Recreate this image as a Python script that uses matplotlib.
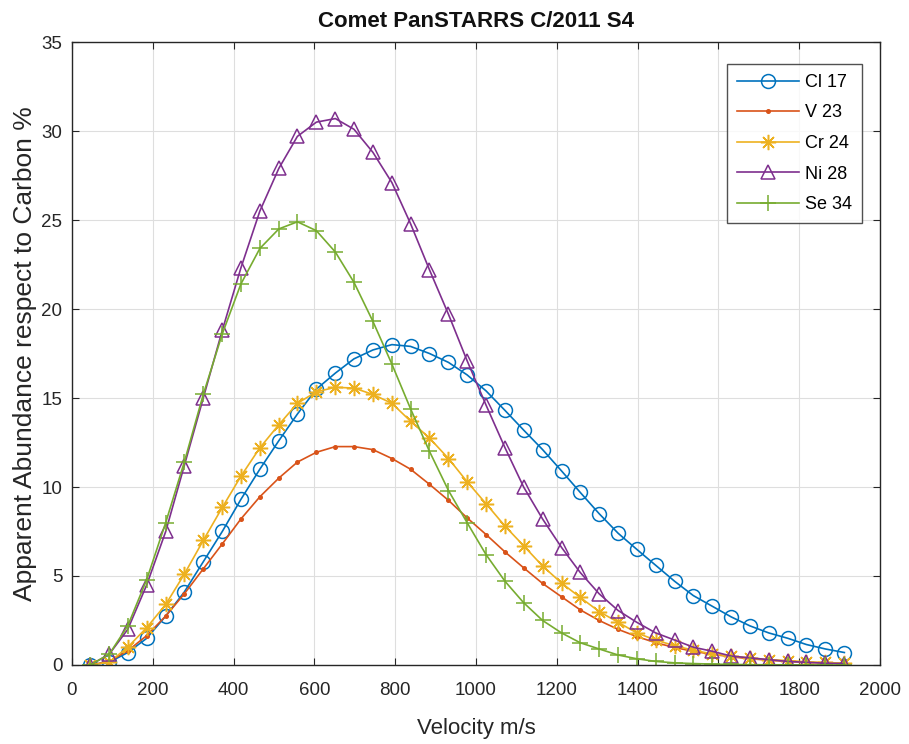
import matplotlib
matplotlib.use("Agg")
import matplotlib.pyplot as plt

plt.rcParams['font.family'] = ['Liberation Sans', 'DejaVu Sans']

velocity = [45, 92, 138, 185, 232, 278, 325, 372, 418, 465, 512, 558, 605, 652,
            698, 745, 792, 838, 885, 932, 978, 1025, 1072, 1118, 1165, 1212, 1258,
            1305, 1352, 1398, 1445, 1492, 1538, 1585, 1632, 1678, 1725, 1772, 1818,
            1865, 1912]

cl17 = [0.0, 0.15, 0.7, 1.5, 2.75, 4.1, 5.8, 7.5, 9.3, 11.0, 12.6, 14.1, 15.5, 16.4,
        17.2, 17.7, 18.0, 17.9, 17.5, 17.0, 16.3, 15.4, 14.3, 13.2, 12.1, 10.9, 9.7,
        8.5, 7.4, 6.5, 5.6, 4.7, 3.9, 3.3, 2.7, 2.2, 1.8, 1.5, 1.15, 0.9, 0.7]

v23 = [0.0, 0.2, 0.8, 1.65, 2.75, 4.0, 5.4, 6.8, 8.2, 9.45, 10.5, 11.4, 11.95, 12.27,
       12.27, 12.1, 11.6, 11.0, 10.15, 9.25, 8.27, 7.33, 6.35, 5.46, 4.58, 3.83, 3.1,
       2.5, 2.0, 1.6, 1.25, 0.98, 0.77, 0.6, 0.46, 0.35, 0.27, 0.2, 0.15, 0.11, 0.08]

cr24 = [0.0, 0.15, 1.0, 2.1, 3.4, 5.1, 7.0, 8.85, 10.6, 12.2, 13.5, 14.7, 15.35, 15.6,
        15.56, 15.2, 14.7, 13.7, 12.75, 11.6, 10.3, 9.06, 7.8, 6.7, 5.56, 4.6, 3.8,
        3.0, 2.4, 1.8, 1.4, 1.08, 0.83, 0.62, 0.5, 0.4, 0.3, 0.25, 0.18, 0.14, 0.1]

ni28 = [0.0, 0.6, 2.0, 4.5, 7.5, 11.2, 15.0, 18.8, 22.3, 25.5, 27.9, 29.7, 30.5, 30.7,
        30.1, 28.8, 27.1, 24.8, 22.2, 19.7, 17.1, 14.6, 12.2, 10.0, 8.2, 6.6, 5.2,
        4.0, 3.06, 2.4, 1.8, 1.4, 1.0, 0.77, 0.5, 0.4, 0.3, 0.2, 0.15, 0.1, 0.08]

se34 = [0.0, 0.6, 2.2, 4.8, 8.0, 11.4, 15.2, 18.6, 21.4, 23.4, 24.5, 24.9, 24.4, 23.2,
        21.5, 19.3, 16.9, 14.4, 12.0, 9.8, 8.0, 6.2, 4.7, 3.5, 2.5, 1.8, 1.25,
        0.9, 0.56, 0.35, 0.2, 0.12, 0.08, 0.05, 0.03, 0.02, 0.01, 0.01, 0.005, 0.0, 0.0]

labels = ['Cl 17', 'V 23', 'Cr 24', 'Ni 28', 'Se 34']
colors = ['#0072BD', '#D95319', '#EDB120', '#7E2F8E', '#77AC30']
markers = ['o', '.', (8, 2, 0), '^', '+']
msizes = [10, 5, 11, 10.5, 12]
series = [cl17, v23, cr24, ni28, se34]

fig = plt.figure(figsize=(9.09, 7.44), dpi=100)
ax = fig.add_axes([0.0792, 0.1062, 0.8888, 0.8373])

for y, lab, c, m, ms in zip(series, labels, colors, markers, msizes):
    ax.plot(velocity, y, color=c, marker=m, markersize=ms, linewidth=1.2,
            markerfacecolor='none' if m in ('o', '^') else c,
            markeredgewidth=1.1, label=lab)

ax.set_xlim(0, 2000)
ax.set_ylim(0, 35)
ax.set_xticks(range(0, 2001, 200))
ax.set_yticks(range(0, 36, 5))
ax.grid(True, color='#dedede', linewidth=0.8)
ax.set_axisbelow(True)
ax.tick_params(direction='in', top=True, right=True, labelsize=13.5, length=5,
               colors='#262626')
ax.tick_params(axis='x', pad=12)
ax.tick_params(axis='y', pad=7)
for s in ax.spines.values():
    s.set_color('#262626')
    s.set_linewidth(1.0)

ax.set_title('Comet PanSTARRS C/2011 S4', fontsize=16, fontweight='bold',
             color='#111111', pad=11)
ax.set_xlabel('Velocity m/s', fontsize=16, color='#262626', labelpad=14)
ax.set_ylabel('Apparent Abundance respect to Carbon %', fontsize=19,
              color='#262626', labelpad=3)

leg = ax.legend(loc='upper right', bbox_to_anchor=(0.9777, 0.9647), borderaxespad=0,
                fontsize=13, frameon=True, fancybox=False, edgecolor='#262626',
                handlelength=3.4, handletextpad=0.35, borderpad=0.55,
                labelspacing=0.75)
leg.get_frame().set_linewidth(1.0)

fig.savefig('out.png', dpi=100)
